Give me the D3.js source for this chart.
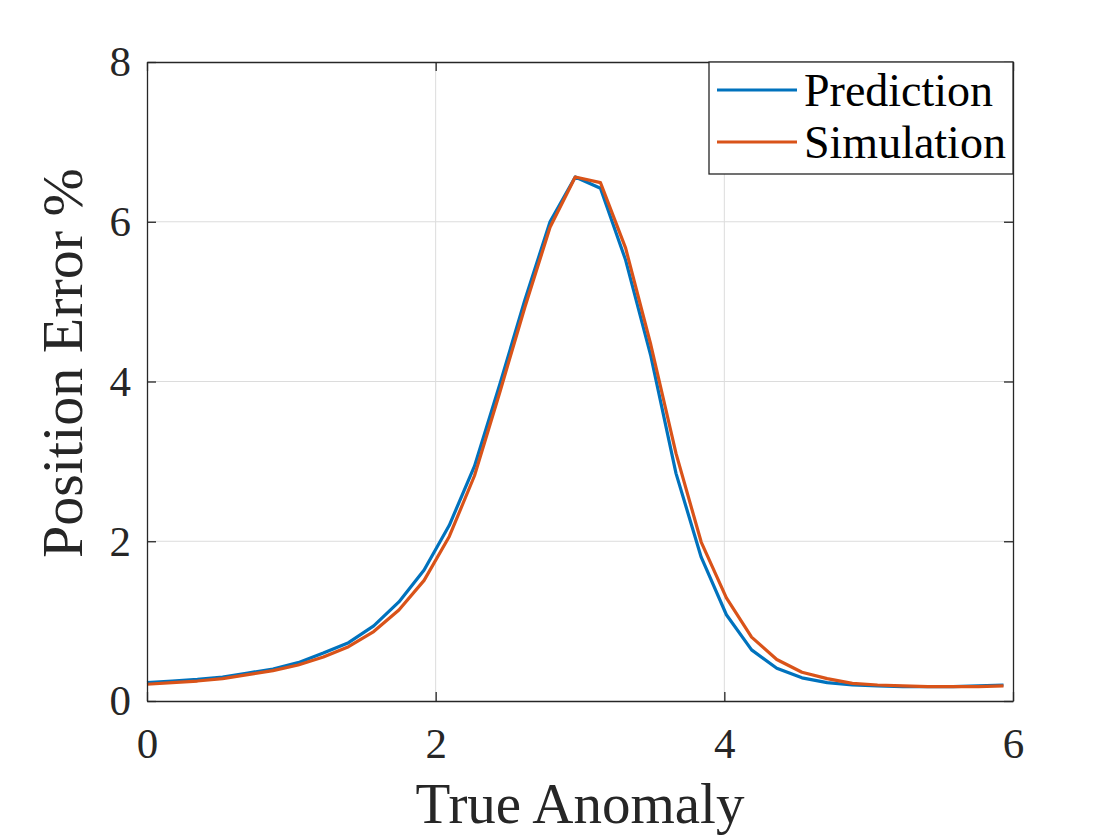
<!DOCTYPE html>
<html>
<head>
<meta charset="utf-8">
<script src="https://cdn.jsdelivr.net/npm/d3@7"></script>
<style>
  body { margin: 0; background: #fff; }
  svg text { font-family: "Liberation Serif", "DejaVu Serif", serif; fill: #262626; }
</style>
</head>
<body>
<div id="chart"></div>
<script>
// true anomaly samples, step pi/18
const anomaly = d3.range(35).map(i => i * Math.PI / 18);

const prediction = [0.23, 0.25, 0.27, 0.30, 0.35, 0.40, 0.48, 0.60, 0.73, 0.94,
  1.24, 1.64, 2.20, 2.94, 3.96, 5.02, 6.00, 6.56, 6.42, 5.52,
  4.32, 2.85, 1.80, 1.08, 0.64, 0.41, 0.29, 0.23, 0.20, 0.19,
  0.18, 0.18, 0.18, 0.19, 0.20];

const simulation = [0.21, 0.23, 0.25, 0.28, 0.33, 0.38, 0.45, 0.55, 0.68, 0.87,
  1.14, 1.51, 2.06, 2.82, 3.86, 4.93, 5.93, 6.56, 6.49, 5.67,
  4.46, 3.10, 1.99, 1.29, 0.80, 0.52, 0.36, 0.28, 0.22, 0.20,
  0.19, 0.18, 0.18, 0.18, 0.19];

const seriesNames = ["Prediction", "Simulation"];
const seriesColors = ["#0072BD", "#D95319"];
const xTicks = [0, 2, 4, 6];
const yTicks = [0, 2, 4, 6, 8];

const W = 1120, H = 840;
const margin = {top: 62, right: 107, bottom: 139, left: 147};
const width = W - margin.left - margin.right,
      height = H - margin.top - margin.bottom;

const svg = d3.select("#chart").append("svg")
    .attr("width", W)
    .attr("height", H);

const g = svg.append("g")
    .attr("transform", `translate(${margin.left},${margin.top})`);

const x = d3.scaleLinear().domain([0, 6]).range([0, width]);
const y = d3.scaleLinear().domain([0, 8]).range([height, 0]);

// grid
g.append("g").selectAll("line.gx")
  .data(xTicks.slice(1, -1)).enter().append("line")
    .attr("x1", d => x(d)).attr("x2", d => x(d))
    .attr("y1", 0).attr("y2", height)
    .attr("stroke", "#dcdcdc").attr("stroke-width", 1);
g.append("g").selectAll("line.gy")
  .data(yTicks.slice(1, -1)).enter().append("line")
    .attr("x1", 0).attr("x2", width)
    .attr("y1", d => y(d)).attr("y2", d => y(d))
    .attr("stroke", "#dcdcdc").attr("stroke-width", 1);

// lines
const series = [prediction, simulation];
const line = d3.line()
    .x((d, i) => x(anomaly[i]))
    .y(d => y(d));

series.forEach((vals, k) => {
  g.append("path")
    .datum(vals)
    .attr("fill", "none")
    .attr("stroke", seriesColors[k])
    .attr("stroke-width", 3.2)
    .attr("stroke-linejoin", "round")
    .attr("d", line);
});

// axes, ticks pointing inward (box on)
function styleAxis(sel) {
  sel.select(".domain").attr("stroke", "#262626").attr("stroke-width", 1.3);
  sel.selectAll(".tick line").attr("stroke", "#262626").attr("stroke-width", 1.3);
  sel.selectAll(".tick text").attr("font-size", 43);
}

const xAxis = g.append("g")
    .attr("transform", `translate(0,${height})`)
    .call(d3.axisBottom(x).tickValues(xTicks).tickFormat(d3.format("d"))
      .tickSize(-9).tickSizeOuter(0).tickPadding(26));
styleAxis(xAxis);

const yAxis = g.append("g")
    .call(d3.axisLeft(y).tickValues(yTicks).tickFormat(d3.format("d"))
      .tickSize(-9).tickSizeOuter(0).tickPadding(16));
styleAxis(yAxis);

const xTop = g.append("g")
    .call(d3.axisTop(x).tickValues(xTicks).tickSize(-9).tickSizeOuter(0).tickFormat(""));
styleAxis(xTop);

const yRight = g.append("g")
    .attr("transform", `translate(${width},0)`)
    .call(d3.axisRight(y).tickValues(yTicks).tickSize(-9).tickSizeOuter(0).tickFormat(""));
styleAxis(yRight);

// axis labels
svg.append("text")
    .attr("x", margin.left + width / 2)
    .attr("y", 823)
    .attr("text-anchor", "middle")
    .attr("font-size", 57)
    .text("True Anomaly");

svg.append("text")
    .attr("transform", `translate(82,363) rotate(-90)`)
    .attr("text-anchor", "middle")
    .attr("font-size", 58)
    .text("Position Error %");

// legend
const legW = 304, legH = 112;
const leg = g.append("g")
    .attr("transform", `translate(${width - legW},0)`);
leg.append("rect")
    .attr("width", legW).attr("height", legH)
    .attr("fill", "#fff")
    .attr("stroke", "#262626").attr("stroke-width", 1.3);

seriesNames.forEach((name, k) => {
  const yy = 28 + k * 52;
  leg.append("line")
    .attr("x1", 8).attr("x2", 88)
    .attr("y1", yy).attr("y2", yy)
    .attr("stroke", seriesColors[k]).attr("stroke-width", 3.2);
  leg.append("text")
    .attr("x", 95).attr("y", yy)
    .attr("dy", "0.35em")
    .attr("font-size", 46)
    .style("fill", "#000")
    .text(name);
});
</script>
</body>
</html>
